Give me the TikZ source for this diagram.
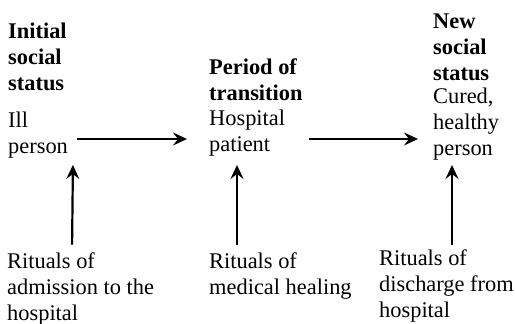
\documentclass[tikz,border=0pt]{standalone}
\usepackage{fontspec}
\setmainfont{Liberation Serif}
\usetikzlibrary{arrows.meta,calc}
\begin{document}
\begin{tikzpicture}[x=1pt,y=-1pt,
  lbl/.style={inner sep=0pt, anchor=base west, align=left, font=\fontsize{22.4}{26}\selectfont},
  ttl/.style={lbl, font=\fontsize{22.4}{26}\selectfont\bfseries},
  arr/.style={-{Stealth[length=14pt,width=13pt,inset=5pt]}, line width=2.2pt}]
\useasboundingbox (0,0) rectangle (515,324);
% anchor points are the baselines of the last lines
\node[ttl] (t1) at (8,90) {Initial\\social\\status};
\node[lbl] (b1) at (8,153) {Ill\\person};
\node[ttl] (t2) at (209,100) {Period of\\transition};
\node[lbl] (b2) at (209,151) {Hospital\\patient};
\node[ttl] (t3) at (433,80) {New\\social\\status};
\node[lbl] (b3) at (433,155) {Cured,\\healthy\\person};
\node[lbl] (r1) at (7,320) {Rituals of\\admission to the\\hospital};
\node[lbl] (r2) at (209,294) {Rituals of\\medical healing};
\node[lbl] (r3) at (379,317) {Rituals of\\discharge from\\hospital};
\coordinate (lvl) at (0,139);
\draw[arr] ($(b1.east |- lvl)+(9,0)$) -- ($(b2.west |- lvl)+(-22,0)$);
\draw[arr] ($(b2.east |- lvl)+(24,0)$) -- ($(b3.west |- lvl)+(-15,0)$);
\draw[arr, shorten <=7.5pt, shorten >=7pt] ([xshift=65pt]r1.north west) -- ([xshift=65pt]b1.south west);
\draw[arr, shorten <=7.5pt, shorten >=9pt] ([xshift=28pt]r2.north west) -- ([xshift=28pt]b2.south west);
\draw[arr, shorten <=4.5pt, shorten >=5pt] ([xshift=73pt]r3.north west) -- ([xshift=19pt]b3.south west);
\end{tikzpicture}
\end{document}
